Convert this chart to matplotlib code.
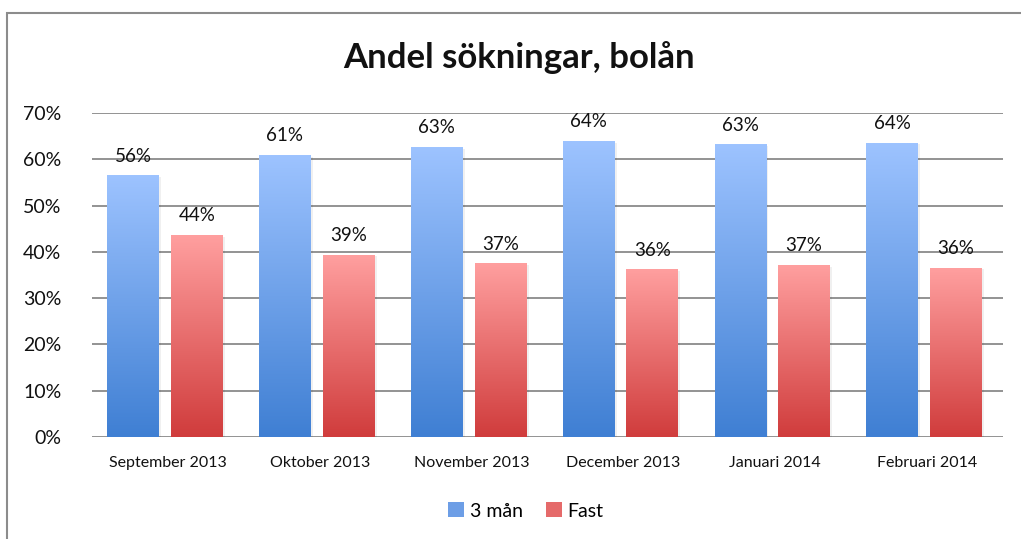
import matplotlib
matplotlib.use("Agg")
import matplotlib.pyplot as plt
import numpy as np
from matplotlib.colors import LinearSegmentedColormap
from matplotlib.patches import Rectangle, Patch

categories = ["September 2013", "Oktober 2013", "November 2013",
              "December 2013", "Januari 2014", "Februari 2014"]
series_names = ["3 mån", "Fast"]
tre_man = [56.4, 60.9, 62.6, 63.9, 63.1, 63.5]
fast = [43.6, 39.3, 37.4, 36.1, 37.1, 36.5]
labels_3m = ["56%", "61%", "63%", "64%", "63%", "64%"]
labels_fast = ["44%", "39%", "37%", "36%", "37%", "36%"]
yticks = [0, 10, 20, 30, 40, 50, 60, 70]

plt.rcParams['font.family'] = ['Lato', 'DejaVu Sans']

W, H = 1021, 539
fig = plt.figure(figsize=(W / 100, H / 100), dpi=100)
fig.patch.set_facecolor("white")

# outer chart border
fig.patches.append(Rectangle((7 / W, -0.1), 1.2, 1 - 13 / H + 0.1,
                             transform=fig.transFigure, fill=False,
                             edgecolor="#8c8c8c", linewidth=1.5))

ax = fig.add_axes([92 / W, 1 - 437 / H, (1003 - 92) / W, (437 - 113) / H])
ax.set_xlim(-0.5, len(categories) - 0.5)
ax.set_ylim(0, 70)

blue_cmap = LinearSegmentedColormap.from_list("b", ["#3f7fd3", "#9dc3ff"])
red_cmap = LinearSegmentedColormap.from_list("r", ["#d03c3c", "#ff9f9f"])

x = np.arange(len(categories))
w = 0.34
off_b, off_r = -0.23, 0.19
grad = np.linspace(0, 1, 256).reshape(-1, 1)

for i in range(len(categories)):
    for val, off, cmap in [(tre_man[i], off_b, blue_cmap), (fast[i], off_r, red_cmap)]:
        x0 = x[i] + off - w / 2
        # faint shadow
        ax.add_patch(Rectangle((x0 + 0.015, 0), w, val - 0.3, facecolor="#000000",
                               alpha=0.06, edgecolor="none", zorder=2))
        ax.imshow(grad, extent=(x0, x0 + w, 0, val), origin="lower",
                  cmap=cmap, aspect="auto", zorder=3, interpolation="bilinear",
                  vmin=0, vmax=1)
for i in range(len(categories)):
    ax.text(x[i] + off_b, tre_man[i] + 2.4, labels_3m[i], ha="center", va="bottom",
            fontsize=13.5, color="#111111")
    ax.text(x[i] + off_r, fast[i] + 2.4, labels_fast[i], ha="center", va="bottom",
            fontsize=13.5, color="#111111")
ax.set_xlim(-0.5, len(categories) - 0.5)
ax.set_ylim(0, 70)

ax.set_yticks(yticks)
ax.set_yticklabels([f"{v}%" for v in yticks], fontsize=14)
ax.set_xticks(x)
ax.set_xticklabels(categories, fontsize=11.5)
ax.tick_params(axis="both", length=0, colors="#111111")
ax.tick_params(axis="y", pad=22)
ax.tick_params(axis="x", pad=14)
ax.yaxis.grid(True, color="#8a8a8a", linewidth=1.3, zorder=0)
ax.set_axisbelow(True)
for s in ax.spines.values():
    s.set_visible(False)

fig.text(0.508, 1 - 58 / H, "Andel sökningar, bolån", ha="center", va="center",
         fontsize=25, fontweight="bold", color="#111111")

handles = [Patch(facecolor="#6d9ee6", edgecolor="none"),
           Patch(facecolor="#e56a6a", edgecolor="none")]
fig.legend(handles, series_names, loc="center", bbox_to_anchor=(0.515, 1 - 511 / H),
           ncol=2, frameon=False, fontsize=14, handlelength=0.8, handleheight=0.8,
           handletextpad=0.3, columnspacing=1.2)

fig.savefig("out.png", dpi=100)
